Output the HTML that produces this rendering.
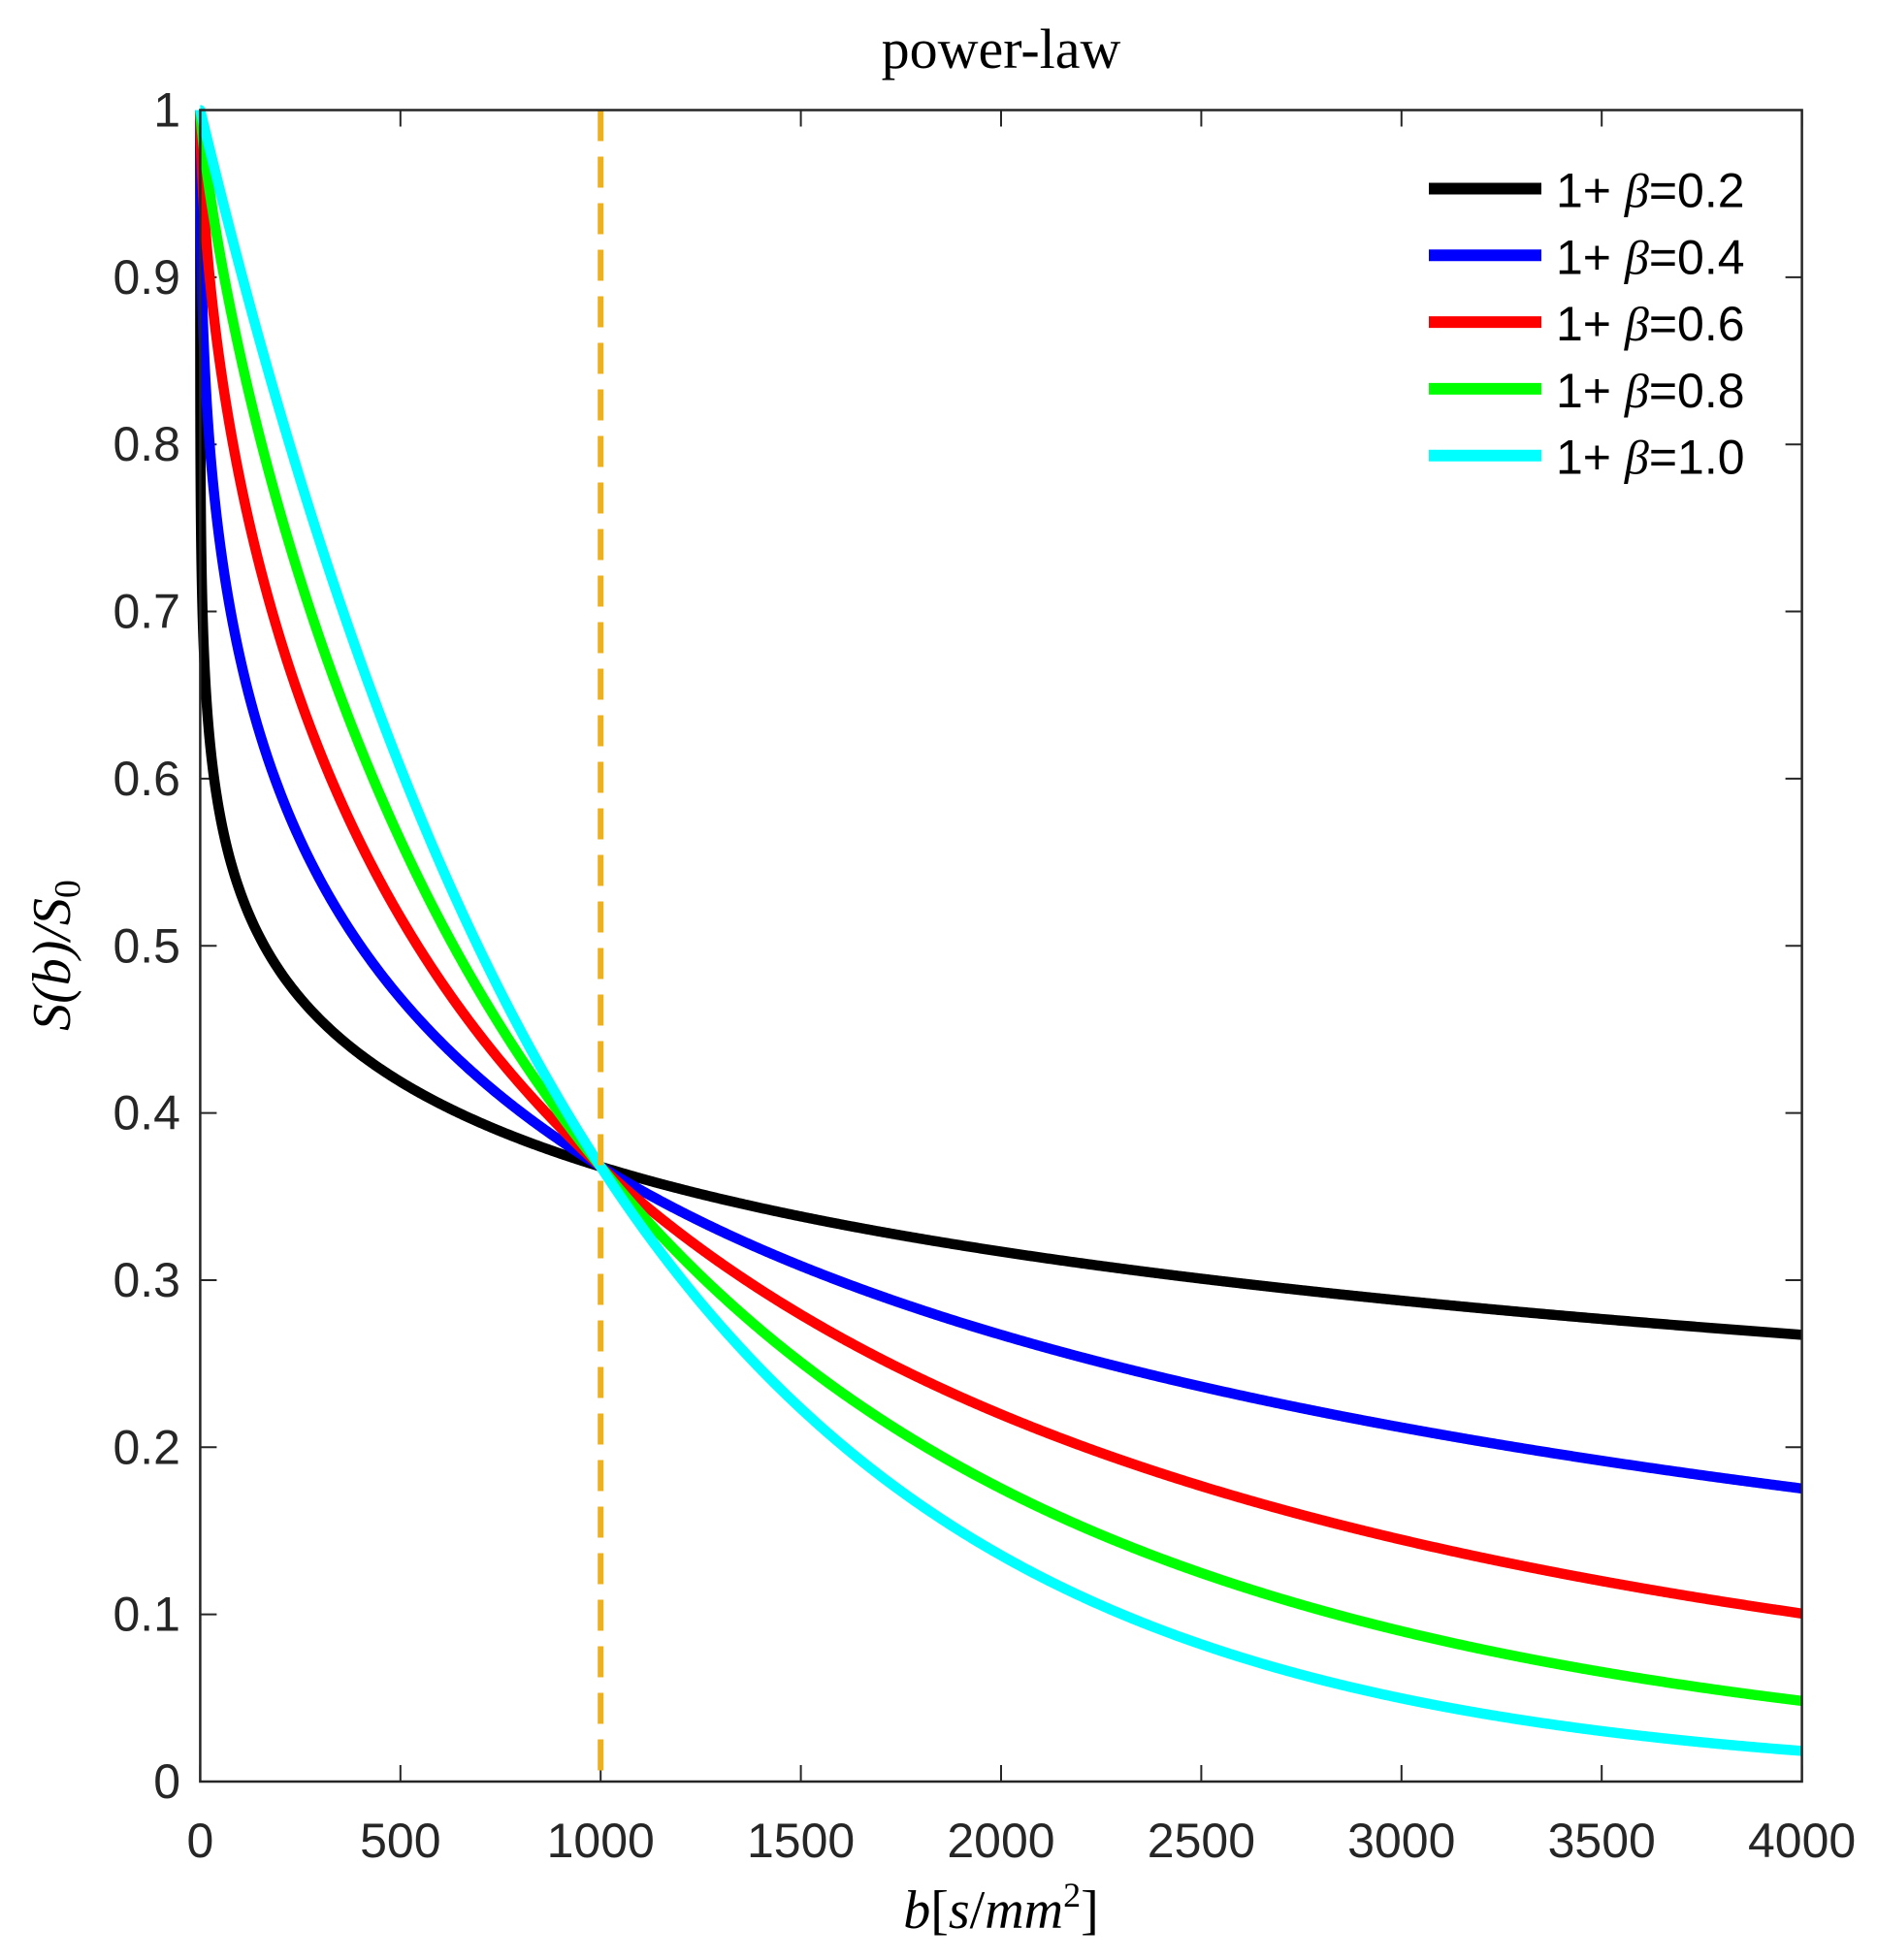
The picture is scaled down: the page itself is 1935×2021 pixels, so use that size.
<!DOCTYPE html>
<html><head><meta charset="utf-8"><style>
html,body{margin:0;padding:0;background:#fff;}
svg{display:block;}
.t{font-family:"Liberation Sans",sans-serif;font-size:50px;fill:#262626;}
</style></head><body>
<svg id="s" width="1935" height="2021" xmlns="http://www.w3.org/2000/svg">
<rect width="1935" height="2021" fill="#fff"/>
<text x="1032" y="70" text-anchor="middle" font-family="Liberation Serif,serif" font-size="58">power-law</text>
<g id="ticks" stroke="#262626" stroke-width="2"></g>
<g id="curves" fill="none" stroke-width="10.5" stroke-linejoin="round"></g>
<line x1="619.2" y1="113.5" x2="619.2" y2="1837" stroke="#EDB120" stroke-width="6" stroke-dasharray="32,16"/>
<rect x="206.4" y="113.5" width="1651.2" height="1723.5" fill="none" stroke="#262626" stroke-width="2.5"/>
<g id="labels"></g>
<text transform="translate(72,985) rotate(-90)" text-anchor="middle" font-family="Liberation Serif,serif" font-style="italic" font-size="56">S(b)/S<tspan font-size="38" dy="10" font-style="normal">0</tspan></text>
<text x="1032" y="1988" text-anchor="middle" font-family="Liberation Serif,serif" font-size="56"><tspan font-style="italic">b</tspan>[<tspan font-style="italic">s</tspan>/<tspan font-style="italic">mm</tspan><tspan font-size="36" dy="-22">2</tspan><tspan dy="22">]</tspan></text>
<g id="legend"></g>
</svg>
<script>
var NS="http://www.w3.org/2000/svg";
var x0=206.4,x1=1857.6,yt=113.5,yb=1837;
function X(b){return x0+(x1-x0)*b/4000;}
function Y(v){return yb-(yb-yt)*v;}
function el(p,n,a,txt){var e=document.createElementNS(NS,n);for(var k in a)e.setAttribute(k,a[k]);if(txt!=null)e.textContent=txt;document.getElementById(p).appendChild(e);return e;}
for(var i=0;i<=8;i++){var x=X(i*500);
 el("ticks","line",{x1:x,y1:yb,x2:x,y2:yb-17});el("ticks","line",{x1:x,y1:yt,x2:x,y2:yt+17});
 el("labels","text",{x:x,y:1915,"text-anchor":"middle","class":"t"},String(i*500));}
for(var i=0;i<=10;i++){var y=Y(i/10);
 el("ticks","line",{x1:x0,y1:y,x2:x0+17,y2:y});el("ticks","line",{x1:x1,y1:y,x2:x1-17,y2:y});
 el("labels","text",{x:186,y:y+17,"text-anchor":"end","class":"t"},i==0?"0":i==10?"1":(i/10).toFixed(1));}
var cols=["#000000","#0000FF","#FF0000","#00FF00","#00FFFF"];
var al=[0.2,0.4,0.6,0.8,1.0];
for(var c=0;c<5;c++){var a=al[c],pts=[X(0).toFixed(2)+","+Y(1).toFixed(2)];
 for(var j=0;j<=300;j++){var b=Math.pow(10,-5+j/300*7.3);if(b>=200)break;
  pts.push(X(b).toFixed(2)+","+Y(Math.exp(-Math.pow(b/1000,a))).toFixed(2));}
 for(var b=200;b<=4000;b+=4){
  pts.push(X(b).toFixed(2)+","+Y(Math.exp(-Math.pow(b/1000,a))).toFixed(2));}
 el("curves","polyline",{points:pts.join(" "),stroke:cols[c]});
 var ly=194.5+c*68.8;
 el("legend","line",{x1:1473,y1:ly,x2:1589,y2:ly,stroke:cols[c],"stroke-width":12});
 var t=el("legend","text",{x:1604,y:ly+19,"font-family":"Liberation Sans,sans-serif","font-size":50,fill:"#000"});
 t.appendChild(document.createTextNode("1+ "));
 var ts=document.createElementNS(NS,"tspan");ts.setAttribute("font-style","italic");ts.setAttribute("font-family","Liberation Serif,serif");ts.textContent="\u03B2";t.appendChild(ts);
 t.appendChild(document.createTextNode("="+a.toFixed(1)));}
</script>
</body></html>
